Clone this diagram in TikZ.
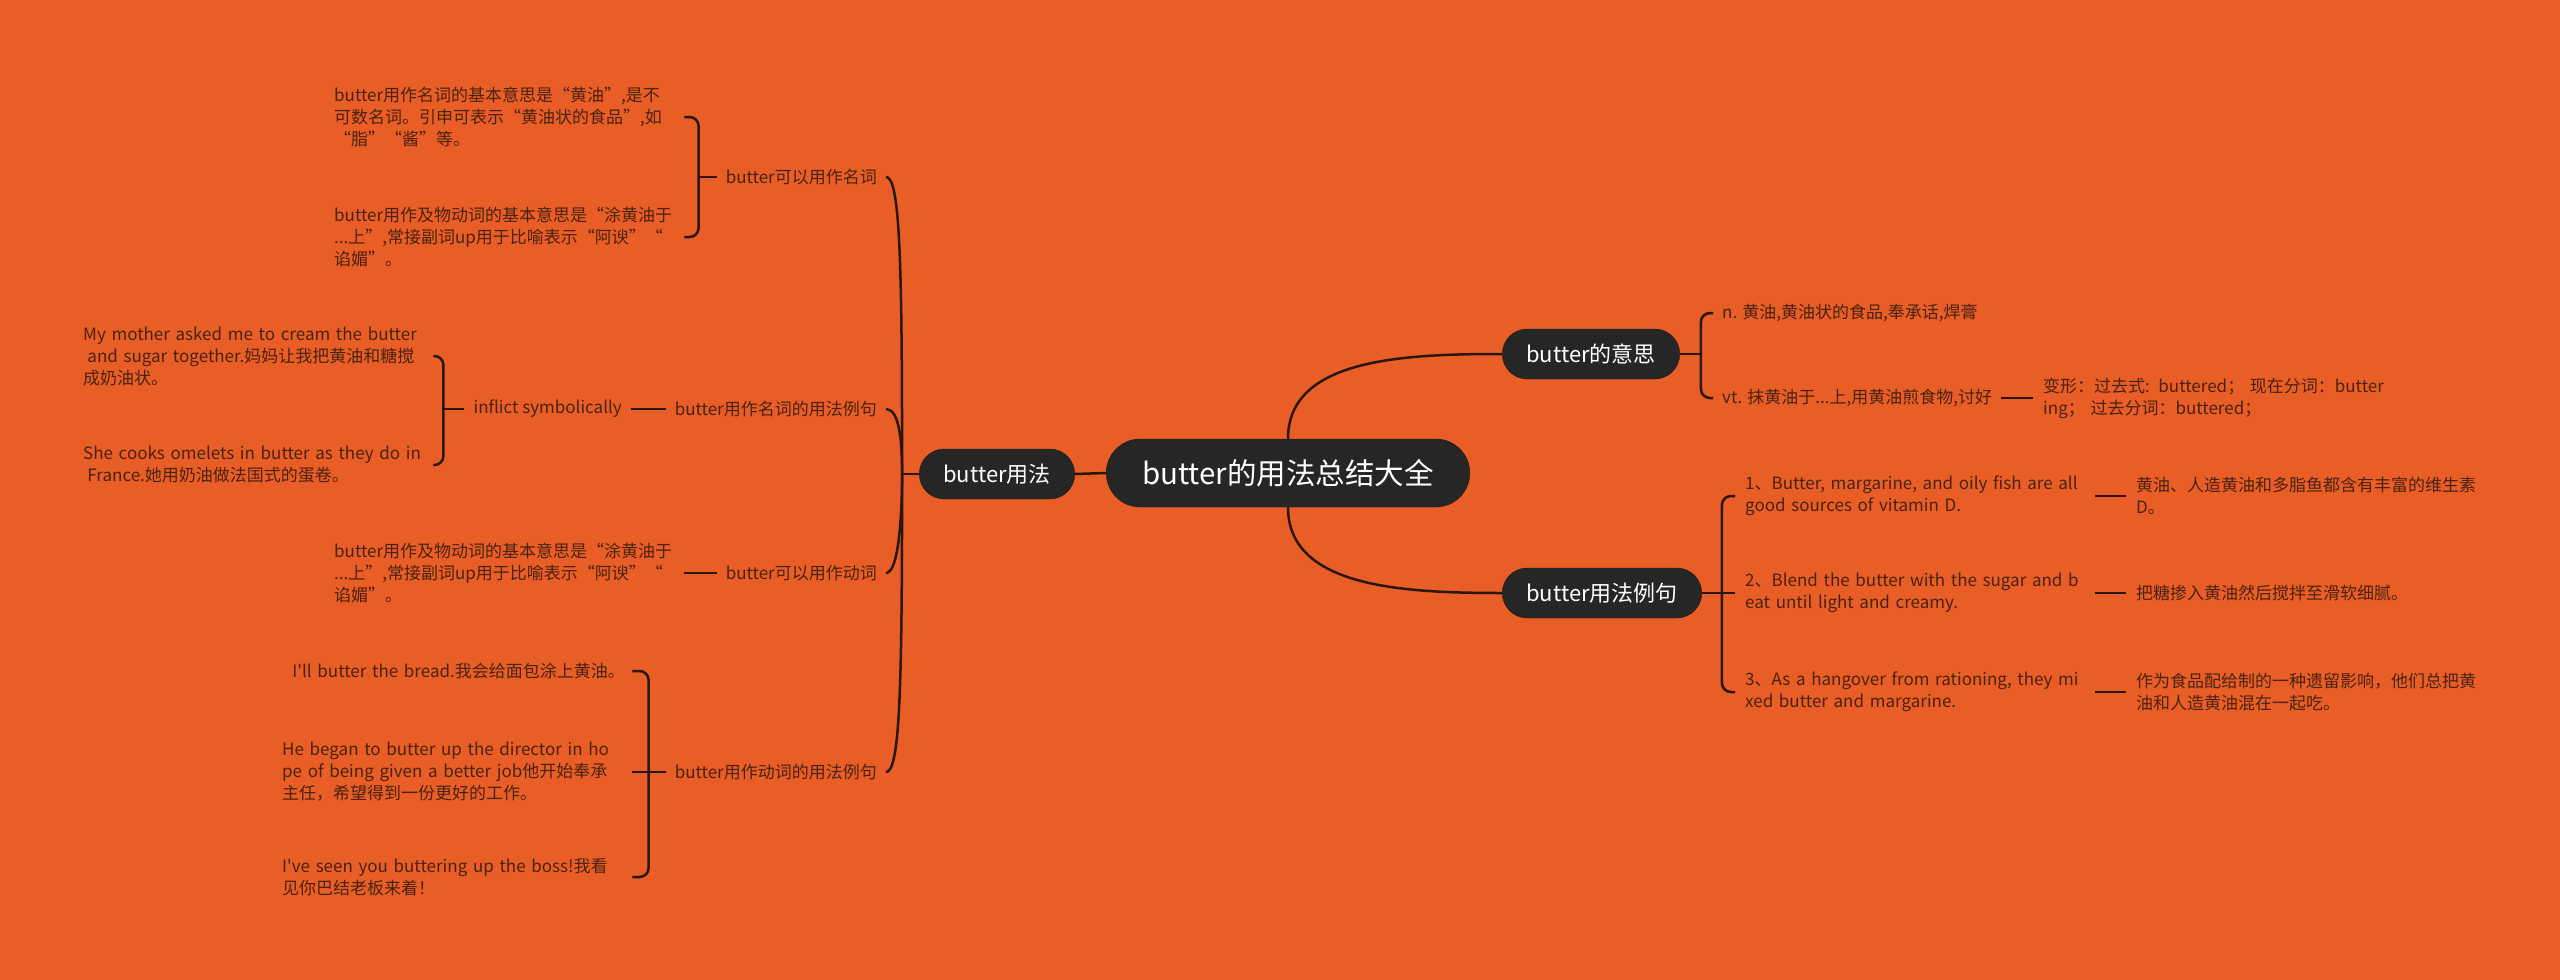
\documentclass[tikz,border=0pt]{standalone}
\usepackage{fontspec}
\newfontfamily\cjk{Noto Sans CJK SC}
\definecolor{bg}{HTML}{E95E27}
\definecolor{boxfill}{HTML}{262626}
\definecolor{ink}{HTML}{4A2210}
\definecolor{wire}{HTML}{2A160C}

\begin{document}
\begin{tikzpicture}[x=1pt,y=-1pt,font=\cjk,
  rootbox/.style={draw=black!90,fill=boxfill,text=white,rounded corners=34pt,
    minimum height=68pt,inner xsep=36pt,font=\cjk\fontsize{29.5}{34}\selectfont},
  topic/.style={draw=black!90,fill=boxfill,text=white,rounded corners=25pt,
    minimum height=50pt,inner xsep=24pt,font=\cjk\fontsize{22}{26}\selectfont},
  lbl/.style={text=ink,inner xsep=9pt,inner ysep=2pt,font=\cjk\fontsize{17}{22}\selectfont},
  leaf/.style={lbl,align=left,text width=340pt,inner xsep=10pt},
  link/.style={draw=wire,line width=2.5pt},
  bracket/.style={link,rounded corners=9pt}]
\useasboundingbox (0,0) rectangle (2560,980);
\fill[bg] (0,0) rectangle (2560,980);

\node[rootbox] (root) at (1288,473) {butter的用法总结大全};
\node[topic] (usage) at (997,474) {butter用法};
\node[topic] (meaning) at (1591,354) {butter的意思};
\node[topic] (examples) at (1602,593) {butter用法例句};

% left side
\node[lbl,anchor=east] (noun) at (886,177) {butter可以用作名词};
\node[lbl,anchor=east] (nounex) at (886,409) {butter用作名词的用法例句};
\node[lbl,anchor=east] (verb) at (886,573) {butter可以用作动词};
\node[lbl,anchor=east] (verbex) at (886,772) {butter用作动词的用法例句};
\node[lbl,anchor=east] (inflict) at (631,409) {inflict symbolically};

\node[leaf,anchor=west] (nA1) at (324,117)
  {butter用作名词的基本意思是“黄油”,是不\\可数名词。引申可表示“黄油状的食品”,如\\“脂”“酱”等。};
\node[leaf,anchor=west] (nA2) at (324,237)
  {butter用作及物动词的基本意思是“涂黄油于\\...上”,常接副词up用于比喻表示“阿谀”“\\谄媚”。};
\node[leaf,anchor=west] (nB1) at (73,356)
  {My mother asked me to cream the butter\\\hspace*{0.25em}and sugar together.妈妈让我把黄油和糖搅\\成奶油状。};
\node[leaf,anchor=west] (nB2) at (73,465)
  {She cooks omelets in butter as they do in\\\hspace*{0.25em}France.她用奶油做法国式的蛋卷。};
\node[leaf,anchor=west] (vC1) at (324,573)
  {butter用作及物动词的基本意思是“涂黄油于\\...上”,常接副词up用于比喻表示“阿谀”“\\谄媚”。};
\node[leaf,anchor=west] (vD1) at (272,671)
  {\mbox{\hspace*{0.6em}I'll butter the bread.我会给面包涂上黄油。}};
\node[leaf,anchor=west] (vD2) at (272,772)
  {He began to butter up the director in ho\\pe of being given a better job他开始奉承\\主任，希望得到一份更好的工作。};
\node[leaf,anchor=west] (vD3) at (272,877)
  {I've seen you buttering up the boss!我看\\见你巴结老板来着！};

% right side
\node[lbl,anchor=west] (mN) at (1713,313) {n. 黄油,黄油状的食品,奉承话,焊膏};
\node[lbl,anchor=west] (mV) at (1713,398) {vt. 抹黄油于...上,用黄油煎食物,讨好};
\node[leaf,anchor=west] (mF) at (2033,398)
  {\mbox{变形：过去式: buttered；\ 现在分词：butter}\\ing；\ 过去分词：buttered；};

\node[leaf,anchor=west] (e1) at (1735,496)
  {1、Butter, margarine, and oily fish are all\\good sources of vitamin D.};
\node[leaf,anchor=west] (e2) at (1735,593)
  {2、Blend the butter with the sugar and b\\eat until light and creamy.};
\node[leaf,anchor=west] (e3) at (1735,692)
  {3、As a hangover from rationing, they mi\\xed butter and margarine.};
\node[leaf,anchor=west] (z1) at (2126,496)
  {黄油、人造黄油和多脂鱼都含有丰富的维生素\\D。};
\node[leaf,anchor=west] (z2) at (2126,593)
  {把糖掺入黄油然后搅拌至滑软细腻。};
\node[leaf,anchor=west] (z3) at (2126,692)
  {作为食品配给制的一种遗留影响，他们总把黄\\油和人造黄油混在一起吃。};

% connectors
\coordinate (spL) at ([xshift=-17pt]usage.west);
\coordinate (brA) at ([xshift=-18pt]noun.west);
\coordinate (brB) at ([xshift=-21pt]inflict.west);
\coordinate (brD) at ([xshift=-17pt]verbex.west);
\coordinate (spM) at ([xshift=21pt]meaning.east);
\coordinate (spE) at ([xshift=20pt]examples.east);

\draw[link] (root.west) -- (usage.east);
\draw[link] (usage.west) -- (spL);
\draw[link] (spL) .. controls +(0,-214) and +(14,0) .. (noun.east);
\draw[link] (spL) .. controls +(0,-30) and +(14,0) .. (nounex.east);
\draw[link] (spL) .. controls +(0,30) and +(14,0) .. (verb.east);
\draw[link] (spL) .. controls +(0,214) and +(14,0) .. (verbex.east);

\draw[link] (noun.west) -- (brA);
\draw[bracket] (nA1.east) -| (brA) |- (nA2.east);
\draw[link] (nounex.west) -- (inflict.east);
\draw[link] (inflict.west) -- (brB);
\draw[bracket] (nB1.east) -| (brB) |- (nB2.east);
\draw[link] (vC1.east) -- (verb.west);
\draw[link] (verbex.west) -- (brD);
\draw[bracket] (vD1.east) -| (brD) |- (vD3.east);
\draw[link] (vD2.east) -- (vD2.east -| brD);

\draw[link] (root.north) .. controls +(0,-80) and +(-100,0) .. (meaning.west);
\draw[link] (root.south) .. controls +(0,80) and +(-100,0) .. (examples.west);

\draw[link] (meaning.east) -- (spM);
\draw[bracket] (mN.west) -| (spM) |- (mV.west);
\draw[link] (mV.east) -- (mF.west);

\draw[link] (examples.east) -- (e2.west);
\draw[bracket] (e1.west) -| (spE) |- (e3.west);
\draw[link] (e1.east) -- (z1.west);
\draw[link] (e2.east) -- (z2.west);
\draw[link] (e3.east) -- (z3.west);
\end{tikzpicture}
\end{document}
